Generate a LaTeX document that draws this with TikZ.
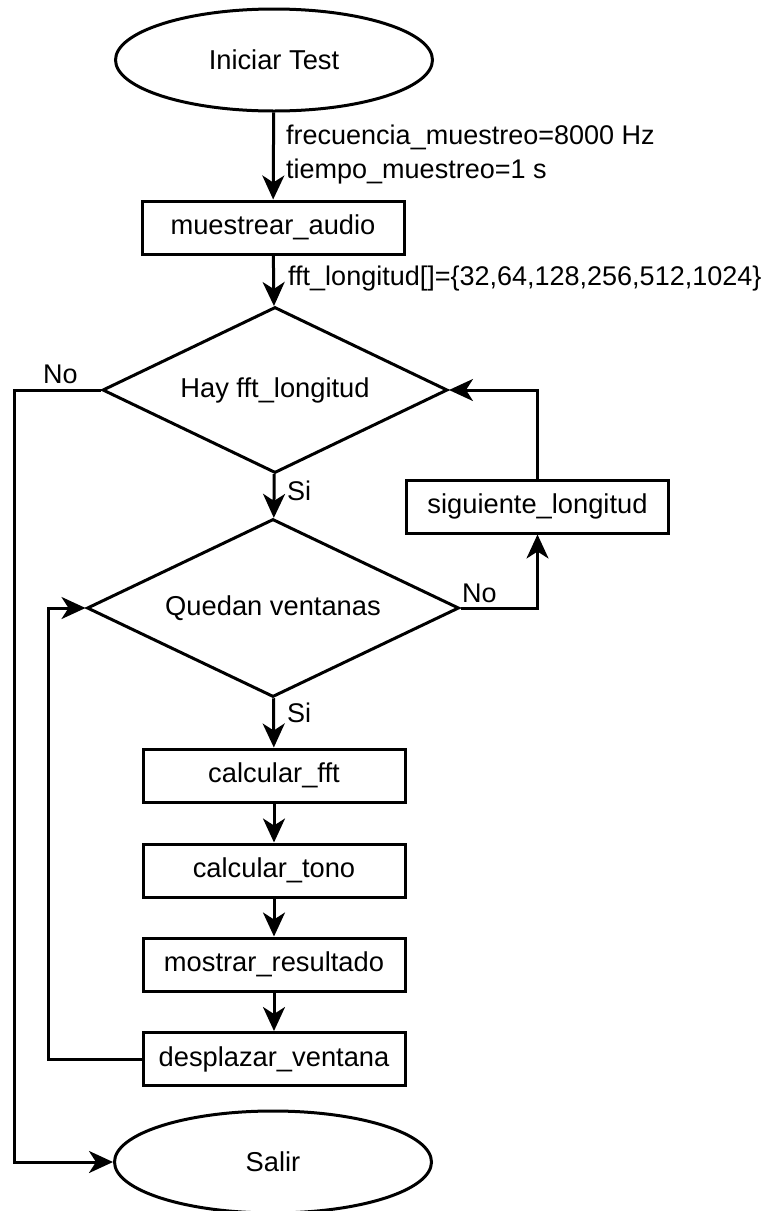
\documentclass[tikz,border=0pt]{standalone}
\usepackage{fontspec}
\setmainfont{Liberation Sans}
\usetikzlibrary{shapes.geometric,arrows.meta}

\tikzset{
  base/.style={draw=black, line width=3pt, inner sep=0pt, align=center,
    font=\fontsize{27.3}{33}\selectfont},
  term/.style={base, ellipse, minimum width=317pt, minimum height=102pt},
  proc/.style={base, rectangle, minimum width=262pt, minimum height=53pt},
  decision/.style={base, diamond, shape aspect=2},
  lbl/.style={inner sep=0pt, anchor=base west, font=\fontsize{27}{33}\selectfont},
  flow/.style={line width=3pt, -{Stealth[length=24pt,width=22pt,inset=7pt]}}
}

\begin{document}
\begin{tikzpicture}[x=1pt, y=-1pt]
  \useasboundingbox (0,0) rectangle (768,1211);

  % main column
  \node[term] (start) at (274,60) {Iniciar Test};
  \node[proc] (audio) at (273,227.5) {muestrear\_audio};
  \node[decision, minimum width=345pt, minimum height=166pt] (hay) at (275,390) {Hay fft\_longitud};
  \node[decision, minimum width=372pt, minimum height=178pt] (quedan) at (273,608) {Quedan ventanas};
  \node[proc] (sig) at (537.5,506.5) {siguiente\_longitud};
  \node[proc] (fft) at (274,775.5) {calcular\_fft};
  \node[proc] (tono) at (274,870.5) {calcular\_tono};
  \node[proc] (res) at (274,964.5) {mostrar\_resultado};
  \node[proc] (desp) at (274,1059) {desplazar\_ventana};
  \node[term] (salir) at (273,1162) {Salir};

  % corner points of the side loops
  \coordinate (outer) at (14,390);
  \coordinate (inner) at (48,1059);

  % straight flow
  \draw[flow] (start) -- (audio);
  \draw[flow] (audio) -- (hay);
  \draw[flow] (hay) -- (quedan);
  \draw[flow] (quedan) -- (fft);
  \draw[flow] (fft) -- (tono);
  \draw[flow] (tono) -- (res);
  \draw[flow] (res) -- (desp);

  % loops
  \draw[flow] (hay.west) -- (outer) |- (salir.west);
  \draw[flow] (quedan.east) -| (sig.south);
  \draw[flow] (sig.north) |- (hay.east);
  \draw[flow] (desp.west) -- (inner) |- (quedan.west);

  % edge labels
  \node[lbl] (f1) at (286,144) {frecuencia\_muestreo=8000 Hz};
  \node[lbl] (f2) at (286,178) {tiempo\_muestreo=1 s};
  \node[lbl] (f3) at (288,285) {fft\_longitud[]=\{32,64,128,256,512,1024\}};
  \node[lbl] (no1) at (43,383) {No};
  \node[lbl] (si1) at (287,500) {Si};
  \node[lbl] (no2) at (462,602) {No};
  \node[lbl] (si2) at (287,722) {Si};
\end{tikzpicture}
\end{document}
